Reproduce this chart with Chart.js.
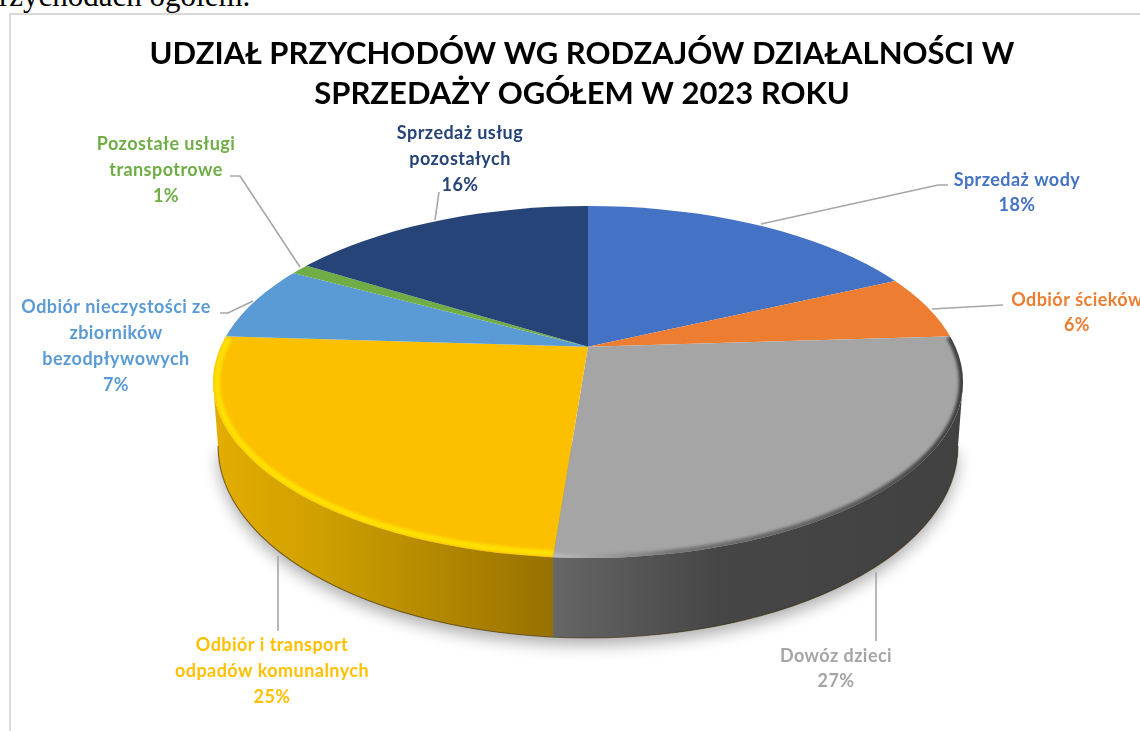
<!DOCTYPE html>
<html lang="pl"><head><meta charset="utf-8">
<script src="https://cdn.jsdelivr.net/npm/chart.js@4"></script>
<style>
html,body{margin:0;padding:0;background:#fff;width:1140px;height:731px;overflow:hidden}
#wrap{position:relative;width:1140px;height:731px;overflow:hidden}
#above{position:absolute;left:-1px;top:-22px;font:31px/36px "Liberation Serif",serif;color:#000;white-space:nowrap}
canvas{position:absolute;left:0;top:0}
</style></head><body>
<div id="wrap"><div id="above">rzychodach ogółem.</div><canvas id="c" width="1140" height="731"></canvas></div>
<script>
const titleLines = ['UDZIAŁ PRZYCHODÓW WG RODZAJÓW DZIAŁALNOŚCI W','SPRZEDAŻY OGÓŁEM W 2023 ROKU'];
const categories = ['Sprzedaż wody','Odbiór ścieków','Dowóz dzieci','Odbiór i transport odpadów komunalnych','Odbiór nieczystości ze zbiorników bezodpływowych','Pozostałe usługi transpotrowe','Sprzedaż usług pozostałych'];
const shares = [18,6,27.2,24.8,7,1,16];
const sliceColors = ['#4472C4','#ED7D31','#A5A5A5','#FCC000','#5B9BD5','#70AD47','#264478'];
const labelColors = ['#4472C4','#ED7D31','#A5A5A5','#FFC000','#5B9BD5','#70AD47','#264478'];

// callout layout (not data): wrapped label lines, centre x, first-line y, leader polyline
const callouts = [
 {lines:['Sprzedaż wody'],x:1017,y:180,lead:[[761,224],[938,185],[948,185]]},
 {lines:['Odbiór ścieków'],x:1077,y:300,lead:[[932,309],[1003,305]]},
 {lines:['Dowóz dzieci'],x:836,y:656,lead:[[876,572],[876,641]]},
 {lines:['Odbiór i transport','odpadów komunalnych'],x:272,y:645,lead:[[278,556],[278,631]]},
 {lines:['Odbiór nieczystości ze','zbiorników','bezodpływowych'],x:116,y:307,lead:[[253,301],[228,313],[220,313]]},
 {lines:['Pozostałe usługi','transpotrowe'],x:166,y:144,lead:[[300,267],[240,176],[230,176]]},
 {lines:['Sprzedaż usług','pozostałych'],x:460,y:133,lead:[[435,220],[439,192]]}
];
const TOP = {x:588,y:382,rx:375,ry:176};
const BASE = {x:588,y:446,rx:370,ry:192};
const SQUASH = 2.2, SHIFT = 6;
const total = shares.reduce((a,b)=>a+b,0);

function rimPoint(angle){ // where a slice edge meets the top-face ellipse
  const ax=588, ay=347, dx=Math.cos(angle), dy=Math.sin(angle)/SQUASH;
  const A=dx*dx/(TOP.rx*TOP.rx)+dy*dy/(TOP.ry*TOP.ry);
  const ox=(ax-TOP.x), oy=(ay-TOP.y);
  const B=2*(ox*dx/(TOP.rx*TOP.rx)+oy*dy/(TOP.ry*TOP.ry));
  const C=ox*ox/(TOP.rx*TOP.rx)+oy*oy/(TOP.ry*TOP.ry)-1;
  const t=(-B+Math.sqrt(B*B-4*A*C))/(2*A);
  return {x:ax+t*dx,y:ay+t*dy};
}
function ellAngle(p){return Math.atan2((p.y-TOP.y)/TOP.ry,(p.x-TOP.x)/TOP.rx);}

const pie3d = {
 id:'pie3d',
 beforeDatasetDraw(chart,args){
  const ctx=chart.ctx, meta=chart.getDatasetMeta(0), arcs=meta.data;
  const split=rimPoint(arcs[2].endAngle);
  const wall=new Path2D();
  wall.ellipse(TOP.x,TOP.y,TOP.rx,TOP.ry,0,0,Math.PI);
  wall.ellipse(BASE.x,BASE.y,BASE.rx,BASE.ry,0,Math.PI,0,true);
  wall.closePath();
  // soft cast shadow
  ctx.save();
  ctx.shadowColor='rgba(0,0,0,0.32)';ctx.shadowBlur=16;ctx.shadowOffsetY=7;
  ctx.fillStyle='#888';
  ctx.beginPath();ctx.ellipse(BASE.x,BASE.y,BASE.rx,BASE.ry,0,0,Math.PI);ctx.fill();
  ctx.restore();
  // side wall
  ctx.save();ctx.clip(wall);
  const gy=ctx.createLinearGradient(218,0,split.x,0);
  gy.addColorStop(0,'#E3AC00');gy.addColorStop(0.3,'#CFA000');gy.addColorStop(1,'#977100');
  ctx.fillStyle=gy;ctx.fillRect(200,300,split.x-200,360);
  const gg=ctx.createLinearGradient(split.x,0,963,0);
  gg.addColorStop(0,'#666666');gg.addColorStop(0.4,'#464646');gg.addColorStop(1,'#414141');
  ctx.fillStyle=gg;ctx.fillRect(split.x,300,770-split.x+200,360);
  ctx.restore();
  // base edge
  ctx.save();ctx.strokeStyle='rgba(60,40,0,0.55)';ctx.lineWidth=1.2;
  ctx.beginPath();ctx.ellipse(BASE.x,BASE.y,BASE.rx,BASE.ry,0,0,Math.PI);ctx.stroke();ctx.restore();
  // top face: library-drawn arcs, squashed and clipped
  const c=arcs[0];
  ctx.save();
  ctx.beginPath();ctx.ellipse(TOP.x,TOP.y,TOP.rx,TOP.ry,0,0,Math.PI*2);ctx.clip();
  ctx.translate(c.x+SHIFT,c.y);ctx.scale(1,1/SQUASH);ctx.translate(-c.x,-c.y);
 },
 afterDatasetDraw(chart){
  const ctx=chart.ctx, arcs=chart.getDatasetMeta(0).data;
  ctx.restore();
  const split=rimPoint(arcs[2].endAngle), yStart=rimPoint(arcs[3].endAngle), gStart=rimPoint(arcs[2].startAngle);
  const aSplit=ellAngle(split), aY=ellAngle(yStart), aG=ellAngle(gStart);
  // bevel on the rim
  ctx.save();
  ctx.beginPath();ctx.ellipse(TOP.x,TOP.y,TOP.rx,TOP.ry,0,0,Math.PI*2);ctx.clip();
  ctx.filter='blur(1.5px)';
  ctx.strokeStyle='#FFE100';ctx.lineWidth=6;
  ctx.beginPath();ctx.ellipse(TOP.x,TOP.y,TOP.rx-4,TOP.ry-4,0,aSplit,aY+Math.PI*2);ctx.stroke();
  const g=ctx.createLinearGradient(split.x,0,963,0);
  g.addColorStop(0,'rgba(190,190,190,0.9)');g.addColorStop(0.3,'rgba(110,110,110,0.9)');
  g.addColorStop(0.7,'rgba(80,80,80,0.85)');g.addColorStop(1,'rgba(50,50,50,0.9)');
  ctx.strokeStyle=g;ctx.lineWidth=6;
  ctx.beginPath();ctx.ellipse(TOP.x,TOP.y,TOP.rx-1,TOP.ry-1,0,aG,aSplit);ctx.stroke();
  ctx.restore();
  // wall seam
  ctx.save();ctx.filter='blur(0.5px)';
  ctx.restore();
 },
 afterDatasetsDraw(chart){
  const ctx=chart.ctx;
  ctx.save();
  // chart frame
  ctx.strokeStyle='#D9D9D9';ctx.lineWidth=2;
  ctx.beginPath();ctx.moveTo(10,731);ctx.lineTo(10,14);ctx.lineTo(1140,14);ctx.stroke();
  // leaders
  ctx.strokeStyle='#A6A6A6';ctx.lineWidth=1.6;
  callouts.forEach(c=>{ctx.beginPath();c.lead.forEach((p,i)=>i?ctx.lineTo(p[0],p[1]):ctx.moveTo(p[0],p[1]));ctx.stroke();});
  // labels
  ctx.font='bold 18px Lato';ctx.letterSpacing='0.45px';ctx.textAlign='center';ctx.textBaseline='middle';
  callouts.forEach((c,i)=>{
    ctx.fillStyle=labelColors[i];
    const rows=c.lines.concat(Math.round(shares[i]/total*100)+'%');
    rows.forEach((t,j)=>ctx.fillText(t,c.x,c.y+j*26.2-(rows.length===2?j*1:0)));
  });
  ctx.restore();
 }
};
Chart.defaults.font.family='Lato';
const chart=new Chart(document.getElementById('c'),{
 type:'pie',
 plugins:[pie3d],
 data:{labels:categories,datasets:[{data:shares,backgroundColor:sliceColors,borderWidth:0,radius:620}]},
 options:{
  responsive:false,animation:false,
  layout:{padding:{left:24,right:0,top:0,bottom:152}},
  plugins:{
   legend:{display:false},tooltip:{enabled:false},
   title:{display:true,text:titleLines,color:'#000',font:{family:'Lato',size:31,weight:'bold',lineHeight:1.3},padding:{top:34,bottom:0}}
  }
 }
});
</script></body></html>
